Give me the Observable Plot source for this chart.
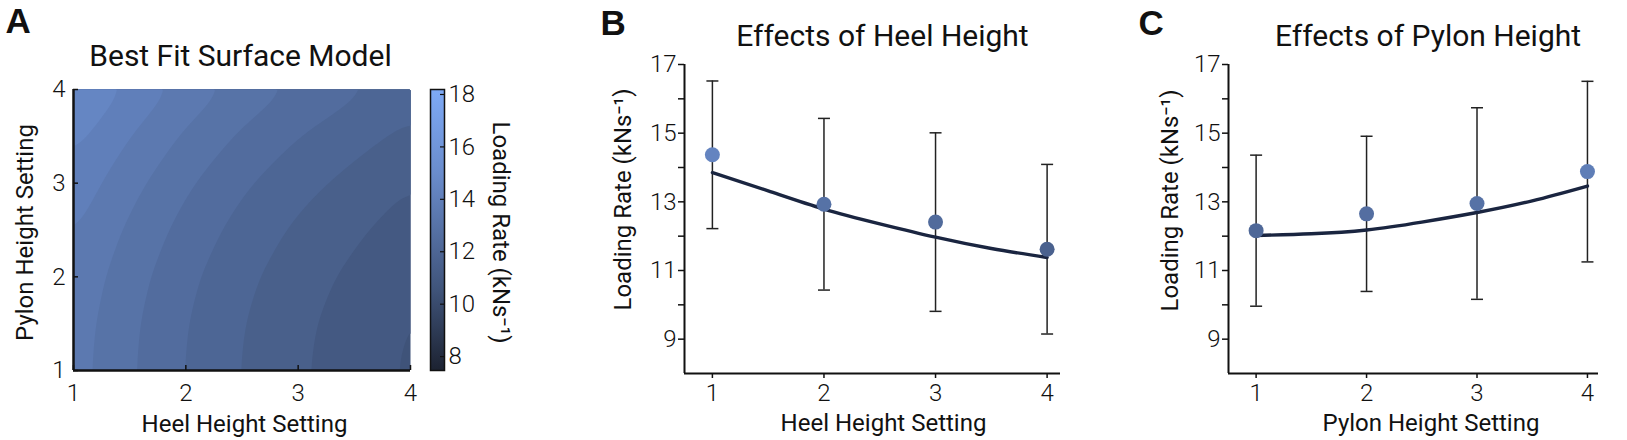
<!DOCTYPE html>
<html>
<head>
<meta charset="utf-8">
<script src="https://cdn.jsdelivr.net/npm/d3@7"></script>
<script src="https://cdn.jsdelivr.net/npm/@observablehq/plot@0.6"></script>
<style>
  body { margin: 0; background: #fff; }
  #fig { position: relative; width: 1627px; height: 440px; }
  .panel { position: absolute; top: 0; }
</style>
</head>
<body>
<div id="fig"></div>
<script>
// settings on the x axis of every panel
const settings = [1, 2, 3, 4];

// B: measured loading rate per heel setting (mean, sd)
const heelMean = [14.37, 12.93, 12.41, 11.62];
const heelSD = [2.15, 2.5, 2.6, 2.47];
// C: measured loading rate per pylon setting
const pylonMean = [12.16, 12.65, 12.95, 13.88];
const pylonSD = [2.2, 2.26, 2.79, 2.63];

const fitSettings = [1, 1.5, 2, 2.5, 3, 3.5, 4];
const heelFit = [13.85, 13.32, 12.79, 12.36, 11.97, 11.64, 11.38];
const pylonFit = [12.02, 12.07, 12.18, 12.41, 12.69, 13.03, 13.46];

// A: surface model, rows = pylon setting, columns = heel setting
const gridHeel = [1, 1.5, 2, 2.5, 3, 3.5, 4];
const gridPylon = [1, 1.5, 2, 2.5, 3, 3.5, 4];
const surface = [
  [13.72, 13.07, 12.48, 11.98, 11.57, 11.24, 10.92],
  [13.76, 13.11, 12.52, 12.02, 11.61, 11.28, 10.96],
  [13.87, 13.22, 12.63, 12.13, 11.72, 11.39, 11.07],
  [14.06, 13.41, 12.82, 12.32, 11.91, 11.58, 11.26],
  [14.32, 13.67, 13.08, 12.58, 12.17, 11.84, 11.52],
  [14.66, 14.01, 13.42, 12.92, 12.51, 12.18, 11.86],
  [15.07, 14.42, 13.83, 13.33, 12.92, 12.59, 12.27]
];
const levels = [10.5, 11, 11.5, 12, 12.5, 13, 13.5, 14, 14.5, 15, 15.5];

// colour map (dark navy -> light blue)
const colorStops = [7.47, 10.5, 15, 18.19];
const colorRange = ["#1c2231", "#3f5379", "#6a8ccc", "#7eaaf6"];
const cbarTicks = [8, 10, 12, 14, 16, 18];
const rateTicks = [9, 10, 11, 12, 13, 14, 15, 16, 17];

const font = "Roboto, 'Noto Sans', sans-serif";
const colorScale = {type: "linear", domain: colorStops, range: colorRange, interpolate: "rgb"};
const fig = document.getElementById("fig");

function place(svg, left) {
  const div = document.createElement("div");
  div.className = "panel";
  div.style.left = left + "px";
  div.append(svg);
  fig.append(div);
}

const cells = gridPylon.flatMap((p, i) => gridHeel.map((h, j) => ({h, p, z: surface[i][j]})));
const heelRows = settings.map((s, i) => ({s, m: heelMean[i], sd: heelSD[i]}));
const pylonRows = settings.map((s, i) => ({s, m: pylonMean[i], sd: pylonSD[i]}));
const heelFitRows = fitSettings.map((s, i) => ({s, v: heelFit[i]}));
const pylonFitRows = fitSettings.map((s, i) => ({s, v: pylonFit[i]}));

const tickText = {fontSize: 24, fontWeight: 300, label: null, tickFormat: "d"};
const labelText = {fontSize: 24, textAnchor: "middle", lineAnchor: "middle"};

// ---- A: surface
const surfacePlot = Plot.plot({
  width: 420, height: 440,
  marginLeft: 73, marginRight: 10, marginTop: 89, marginBottom: 70,
  style: {fontFamily: font, background: "transparent", color: "#111"},
  x: {domain: [1, 4]},
  y: {domain: [1, 4]},
  color: colorScale,
  marks: [
    Plot.contour(cells, {x: "h", y: "p", fill: "z", thresholds: levels, interpolate: "barycentric", blur: 6}),
    Plot.tickX(settings, {x: d => d, insetTop: 276, stroke: "#111", strokeWidth: 1.5}),
    Plot.tickY(settings, {y: d => d, insetRight: 332, stroke: "#111", strokeWidth: 1.5}),
    Plot.ruleX([1], {stroke: "#111", strokeWidth: 2.5}),
    Plot.ruleY([1], {stroke: "#111", strokeWidth: 2.5}),
    Plot.axisX(settings, {tickSize: 0, tickPadding: 13, ...tickText}),
    Plot.axisY(settings, {tickSize: 0, tickPadding: 8, ...tickText}),
    Plot.text(["Heel Height Setting"], {frameAnchor: "bottom", dx: 2.5, dy: 54, ...labelText}),
    Plot.text(["Pylon Height Setting"], {frameAnchor: "left", rotate: -90, dx: -48, dy: 2.5, ...labelText}),
    Plot.text(["Best Fit Surface Model"], {frameAnchor: "top", textAnchor: "middle", lineAnchor: "top", dx: -1.5, dy: -45, fontSize: 30}),
    Plot.text(["A"], {frameAnchor: "top-left", textAnchor: "start", lineAnchor: "top", dx: -68, dy: -81,
      fontSize: 35, fontWeight: "bold", fontFamily: "'Liberation Sans', Arial, sans-serif"})
  ]
});
place(surfacePlot, 0);

// ---- A: colour bar
const cbar = Plot.plot({
  width: 120, height: 440,
  marginLeft: 10, marginRight: 96, marginTop: 89, marginBottom: 70,
  style: {fontFamily: font, background: "transparent", color: "#111"},
  x: {axis: null},
  y: {domain: [colorStops[0], colorStops[colorStops.length - 1]]},
  marks: [
    Plot.frame({fill: "url(#cbar-grad)", stroke: "#111", strokeWidth: 1.5}),
    Plot.tickY(cbarTicks, {y: d => d, insetLeft: 10, stroke: "#111", strokeWidth: 1.2}),
    Plot.axisY(cbarTicks, {anchor: "right", tickSize: 0, tickPadding: 4, ...tickText}),
    Plot.text(["Loading Rate (kNs⁻¹)"], {frameAnchor: "right", rotate: 90, dx: 56, dy: 2.5, ...labelText})
  ]
});
const lo = colorStops[0], hi = colorStops[colorStops.length - 1];
const grad = d3.select(cbar).insert("defs", ":first-child")
  .append("linearGradient").attr("id", "cbar-grad")
  .attr("x1", 0).attr("y1", 1).attr("x2", 0).attr("y2", 0);
colorStops.forEach((v, i) => {
  grad.append("stop").attr("offset", (v - lo) / (hi - lo)).attr("stop-color", colorRange[i]);
});
place(cbar, 420);

// ---- B, C: effects
const cap = {
  draw(context, size) {
    const w = Math.sqrt(size / Math.PI);
    context.moveTo(-w, 0);
    context.lineTo(w, 0);
  }
};

function effectPlot({rows, fit, title, letter, xlabel, width, marginLeft, marginRight, xmax, titleDx, labelDx, ylabelDx, ylabelDy, letterDx}) {
  return Plot.plot({
    width, height: 440,
    marginLeft, marginRight, marginTop: 64, marginBottom: 67,
    style: {fontFamily: font, background: "transparent", color: "#111"},
    x: {domain: [0.75, xmax]},
    y: {domain: [8, 17]},
    color: colorScale,
    marks: [
      Plot.ruleX(rows, {x: "s", y1: d => d.m - d.sd, y2: d => d.m + d.sd, stroke: "#222", strokeWidth: 1.5}),
      Plot.dot(rows, {x: "s", y: d => d.m + d.sd, r: 6, symbol: cap, fill: "none", stroke: "#222", strokeWidth: 1.5}),
      Plot.dot(rows, {x: "s", y: d => d.m - d.sd, r: 6, symbol: cap, fill: "none", stroke: "#222", strokeWidth: 1.5}),
      Plot.line(fit, {x: "s", y: "v", curve: "natural", stroke: "#1a2540", strokeWidth: 3.4}),
      Plot.dot(rows, {x: "s", y: "m", r: 7.5, fill: "m"}),
      Plot.ruleX([0.75], {stroke: "#111", strokeWidth: 2}),
      Plot.ruleY([8], {stroke: "#111", strokeWidth: 2}),
      Plot.axisX(settings, {tickSize: 5, tickPadding: 5, strokeWidth: 1.5, ...tickText}),
      Plot.axisY(rateTicks, {tickSize: 6, tickPadding: 2, strokeWidth: 1.5, ...tickText, tickFormat: d => d % 2 ? d : ""}),
      Plot.text([xlabel], {frameAnchor: "bottom", dx: labelDx, dy: 50, ...labelText}),
      Plot.text(["Loading Rate (kNs⁻¹)"], {frameAnchor: "left", rotate: -90, dx: ylabelDx, dy: ylabelDy, ...labelText}),
      Plot.text([title], {frameAnchor: "top", textAnchor: "middle", lineAnchor: "top", dx: titleDx, dy: -40, fontSize: 30}),
      Plot.text([letter], {frameAnchor: "top-left", textAnchor: "start", lineAnchor: "top", dx: letterDx, dy: -54,
        fontSize: 35, fontWeight: "bold", fontFamily: "'Liberation Sans', Arial, sans-serif"})
    ]
  });
}

place(effectPlot({
  rows: heelRows, fit: heelFitRows, title: "Effects of Heel Height", letter: "B",
  xlabel: "Heel Height Setting", width: 540, marginLeft: 144, marginRight: 20, xmax: 4.12,
  titleDx: 10, labelDx: 11, ylabelDx: -61, ylabelDy: -19.5, letterDx: -84
}), 540);

place(effectPlot({
  rows: pylonRows, fit: pylonFitRows, title: "Effects of Pylon Height", letter: "C",
  xlabel: "Pylon Height Setting", width: 547, marginLeft: 148, marginRight: 29, xmax: 4.10,
  titleDx: 14.5, labelDx: 17.5, ylabelDx: -58, ylabelDy: -18.5, letterDx: -90
}), 1080);
</script>
</body>
</html>
